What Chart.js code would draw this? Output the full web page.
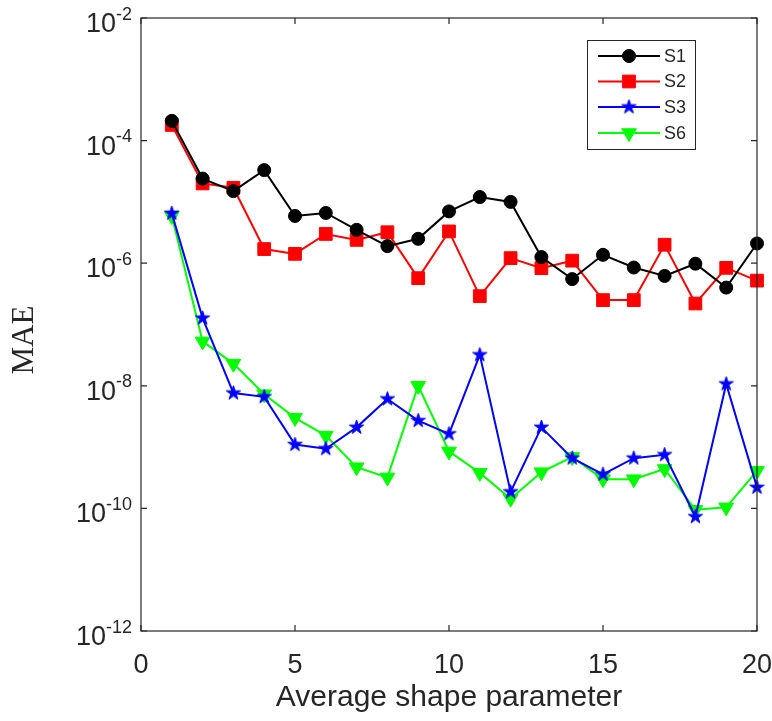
<!DOCTYPE html>
<html>
<head>
<meta charset="utf-8">
<script src="https://cdn.jsdelivr.net/npm/chart.js@4/dist/chart.umd.min.js"></script>
<style>
  html, body { margin: 0; padding: 0; background: #fff; }
  canvas { display: block; }
</style>
</head>
<body>
<canvas id="maeChart" width="772" height="721"></canvas>
<script>
// Data
const shapeParams = [1, 2, 3, 4, 5, 6, 7, 8, 9, 10, 11, 12, 13, 14, 15, 16, 17, 18, 19, 20];
const s1Values = [2.1e-4, 2.4e-5, 1.5e-5, 3.3e-5, 5.9e-6, 6.6e-6, 3.5e-6, 1.9e-6, 2.5e-6, 7.0e-6,
                  1.2e-5, 1.0e-5, 1.26e-6, 5.5e-7, 1.37e-6, 8.5e-7, 6.2e-7, 9.8e-7, 4.0e-7, 2.1e-6];
const s2Values = [1.8e-4, 2.0e-5, 1.7e-5, 1.7e-6, 1.42e-6, 3.0e-6, 2.4e-6, 3.2e-6, 5.7e-7, 3.3e-6,
                  2.9e-7, 1.21e-6, 8.3e-7, 1.1e-6, 2.5e-7, 2.5e-7, 2.0e-6, 2.2e-7, 8.4e-7, 5.2e-7];
const s3Values = [6.5e-6, 1.27e-7, 7.6e-9, 6.6e-9, 1.1e-9, 9.4e-10, 2.1e-9, 6.1e-9, 2.7e-9, 1.64e-9,
                  3.2e-8, 1.86e-10, 2.1e-9, 6.6e-10, 3.6e-10, 6.6e-10, 7.5e-10, 7.3e-11, 1.07e-8, 2.2e-10];
const s6Values = [5.9e-6, 5.3e-8, 2.3e-8, 7.3e-9, 3.0e-9, 1.54e-9, 4.7e-10, 3.2e-10, 1.0e-8, 8.5e-10,
                  3.8e-10, 1.44e-10, 3.9e-10, 6.9e-10, 3.0e-10, 3.0e-10, 4.4e-10, 9.5e-11, 1.04e-10, 4.1e-10];
const seriesNames = ['S1', 'S2', 'S3', 'S6'];
const xTicks = [0, 5, 10, 15, 20];
const yExponents = [-12, -10, -8, -6, -4, -2];

const textColor = '#262626';
const sansFont = "'Liberation Sans', Arial, sans-serif";

// filled pentagram used as the S3 marker
function makePentagram(color, outer) {
    const size = Math.ceil(outer * 2 + 4);
    const c = document.createElement('canvas');
    c.width = size;
    c.height = size;
    const g = c.getContext('2d');
    const inner = outer * 0.382;
    g.beginPath();
    for (let i = 0; i < 10; i++) {
        const r = i % 2 === 0 ? outer : inner;
        const a = -Math.PI / 2 + i * Math.PI / 5;
        const px = size / 2 + r * Math.cos(a);
        const py = size / 2 + r * Math.sin(a);
        if (i === 0) g.moveTo(px, py); else g.lineTo(px, py);
    }
    g.closePath();
    g.fillStyle = color;
    g.fill();
    g.strokeStyle = color;
    g.lineWidth = 1;
    g.stroke();
    return c;
}

const starMarker = makePentagram('#0000ff', 7.5);

function toPoints(values) {
    return values.map((v, i) => ({ x: shapeParams[i], y: v }));
}

const styles = [
    { color: '#000000', pointStyle: 'circle', radius: 6.5, rotation: 0 },
    { color: '#ff0000', pointStyle: 'rect', radius: 9, rotation: 0 },
    { color: '#0000ff', pointStyle: starMarker, radius: 8, rotation: 0 },
    { color: '#00ff00', pointStyle: 'triangle', radius: 8.5, rotation: 180 }
];
const seriesValues = [s1Values, s2Values, s3Values, s6Values];

const datasets = seriesNames.map((name, i) => ({
    label: name,
    data: toPoints(seriesValues[i]),
    borderColor: styles[i].color,
    backgroundColor: styles[i].color,
    borderWidth: 2,
    pointStyle: styles[i].pointStyle,
    pointRadius: styles[i].radius,
    pointRotation: styles[i].rotation,
    pointBorderWidth: 1,
    pointBackgroundColor: styles[i].color,
    pointBorderColor: styles[i].color,
    tension: 0,
    clip: false
}));

// axes box, inward ticks, superscript labels, titles and legend
const matlabAxes = {
    id: 'matlabAxes',
    afterDraw(chart) {
        const { ctx, chartArea: a, scales } = chart;
        const xs = scales.x, ys = scales.y;
        ctx.save();

        ctx.strokeStyle = textColor;
        ctx.lineWidth = 1.2;
        ctx.strokeRect(a.left, a.top, a.right - a.left, a.bottom - a.top);

        ctx.beginPath();
        xTicks.forEach(t => {
            const px = xs.getPixelForValue(t);
            ctx.moveTo(px, a.bottom); ctx.lineTo(px, a.bottom - 6);
            ctx.moveTo(px, a.top); ctx.lineTo(px, a.top + 6);
        });
        yExponents.forEach(e => {
            const py = ys.getPixelForValue(Math.pow(10, e));
            ctx.moveTo(a.left, py); ctx.lineTo(a.left + 6, py);
            ctx.moveTo(a.right, py); ctx.lineTo(a.right - 6, py);
        });
        ctx.stroke();

        // y tick labels 10^e
        ctx.fillStyle = textColor;
        ctx.textBaseline = 'alphabetic';
        yExponents.forEach(e => {
            const py = ys.getPixelForValue(Math.pow(10, e));
            const rightEdge = a.left - 9;
            ctx.font = '18px ' + sansFont;
            const sup = String(e);
            const supW = ctx.measureText(sup).width;
            ctx.textAlign = 'right';
            ctx.fillText(sup, rightEdge, py + 1.5);
            ctx.font = '27px ' + sansFont;
            ctx.fillText('10', rightEdge - supW, py + 14);
        });

        // x axis title
        ctx.font = '30px ' + sansFont;
        ctx.textAlign = 'center';
        ctx.fillText('Average shape parameter', (a.left + a.right) / 2, 706);

        // y axis title
        ctx.save();
        ctx.translate(33, 340);
        ctx.rotate(-Math.PI / 2);
        ctx.font = "31px 'Liberation Serif', 'Times New Roman', serif";
        ctx.textAlign = 'center';
        ctx.fillText('MAE', 0, 0);
        ctx.restore();

        // legend
        const box = { x: 587, y: 40, w: 108, h: 109 };
        ctx.fillStyle = '#ffffff';
        ctx.fillRect(box.x, box.y, box.w, box.h);
        ctx.strokeStyle = textColor;
        ctx.lineWidth = 1;
        ctx.strokeRect(box.x + 0.5, box.y + 0.5, box.w, box.h);
        const rowY = [56, 81.5, 107, 133];
        chart.data.datasets.forEach((ds, i) => {
            const y = rowY[i];
            ctx.strokeStyle = ds.borderColor;
            ctx.lineWidth = 2;
            ctx.beginPath();
            ctx.moveTo(598, y); ctx.lineTo(660, y);
            ctx.stroke();
            ctx.fillStyle = ds.pointBackgroundColor;
            ctx.strokeStyle = ds.pointBorderColor;
            ctx.lineWidth = 1;
            Chart.helpers.drawPoint(ctx, {
                pointStyle: ds.pointStyle,
                rotation: ds.pointRotation,
                radius: ds.pointRadius,
                borderWidth: 1
            }, 629, y);
            ctx.fillStyle = textColor;
            ctx.font = '18px ' + sansFont;
            ctx.textAlign = 'left';
            ctx.textBaseline = 'middle';
            ctx.fillText(ds.label, 664, y + 1);
        });

        ctx.restore();
    }
};

const ctx = document.getElementById('maeChart');
new Chart(ctx, {
    type: 'line',
    data: { datasets },
    options: {
        responsive: false,
        devicePixelRatio: 1,
        animation: false,
        layout: { padding: { left: 0, top: 18, right: 15, bottom: 0 } },
        plugins: {
            legend: { display: false },
            tooltip: { enabled: false }
        },
        scales: {
            x: {
                type: 'linear',
                min: 0,
                max: 20,
                grid: { display: false, drawTicks: false },
                border: { display: false },
                afterBuildTicks: scale => { scale.ticks = xTicks.map(v => ({ value: v })); },
                ticks: {
                    color: textColor,
                    font: { family: sansFont, size: 27 },
                    padding: 18,
                    maxRotation: 0
                },
                afterFit: scale => {
                    scale.height = 90;
                    scale.paddingLeft = 0;
                    scale.paddingRight = 0;
                }
            },
            y: {
                type: 'logarithmic',
                min: 1e-12,
                max: 1e-2,
                grid: { display: false, drawTicks: false },
                border: { display: false },
                afterBuildTicks: scale => { scale.ticks = yExponents.map(e => ({ value: Math.pow(10, e) })); },
                ticks: { display: false },
                afterFit: scale => { scale.width = 141; }
            }
        }
    },
    plugins: [matlabAxes]
});
</script>
</body>
</html>
